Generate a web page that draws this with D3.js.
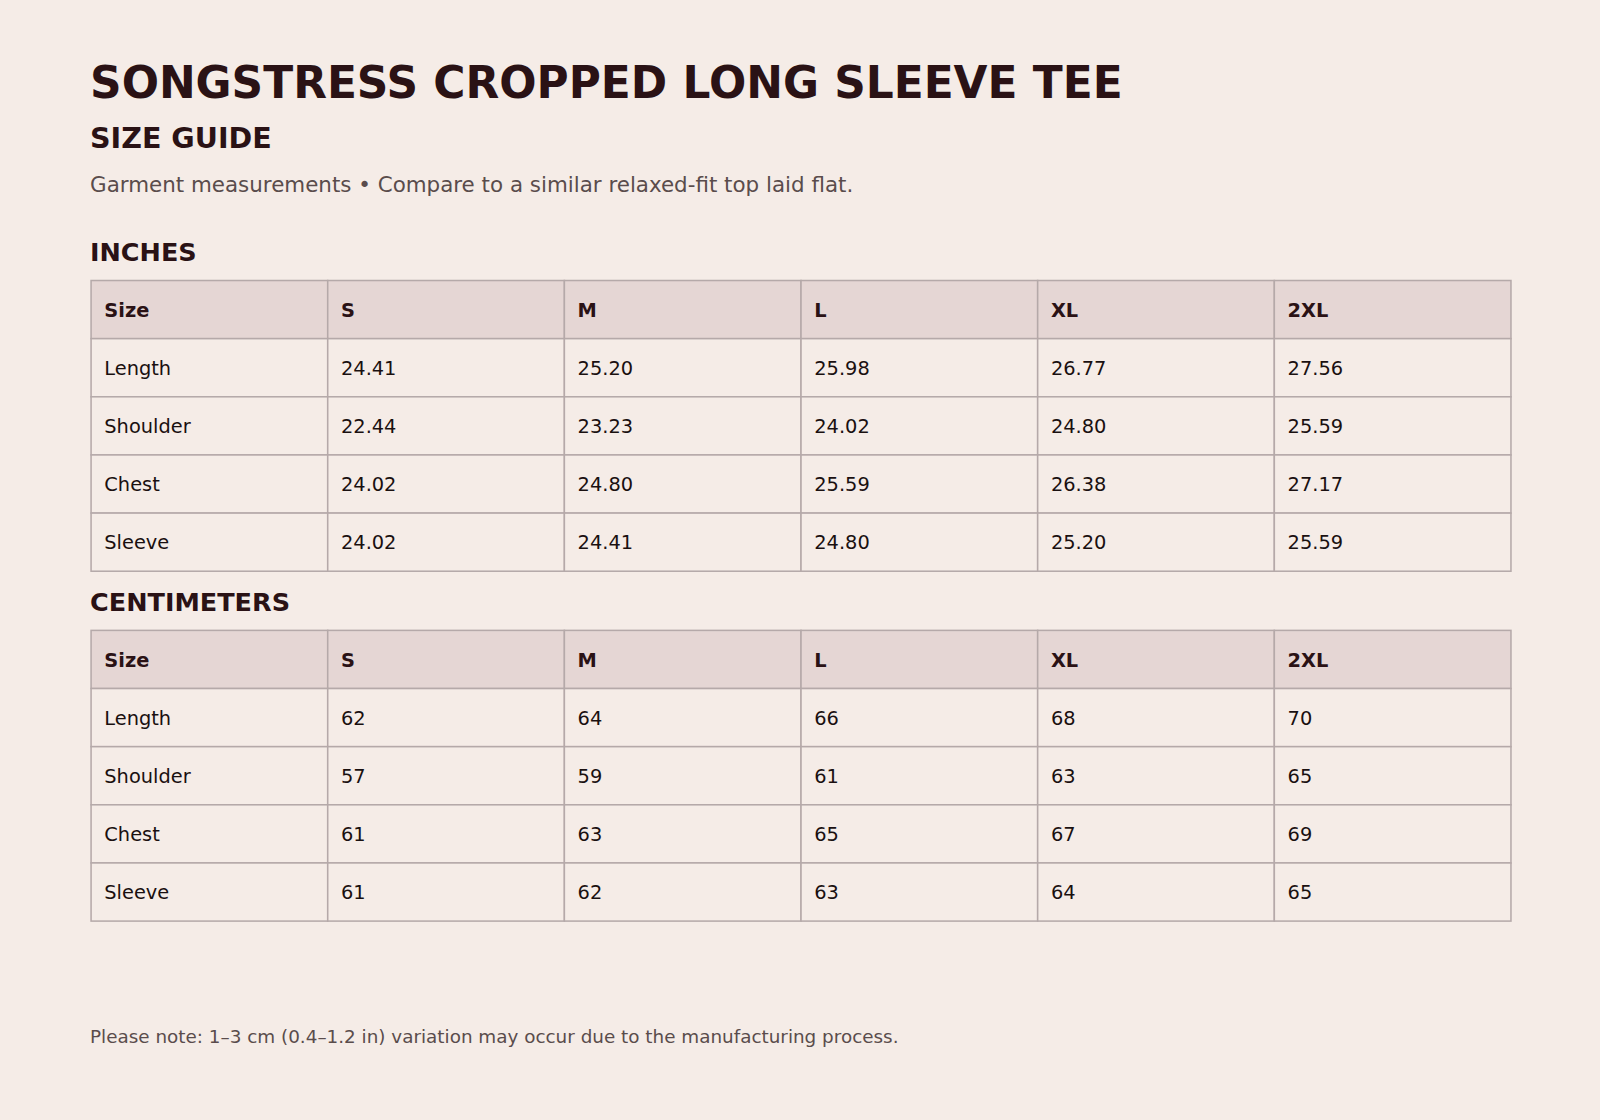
<!DOCTYPE html>
<html><head><meta charset="utf-8">
<script src="https://cdn.jsdelivr.net/npm/d3@7"></script>
<style>html,body{margin:0;padding:0;background:#f5ece7;}svg{display:block;}</style>
</head><body>
<script>
// Size guide data
const sizes = ["S", "M", "L", "XL", "2XL"];
const measures = ["Length", "Shoulder", "Chest", "Sleeve"];
const inches = [
  ["24.41", "25.20", "25.98", "26.77", "27.56"],
  ["22.44", "23.23", "24.02", "24.80", "25.59"],
  ["24.02", "24.80", "25.59", "26.38", "27.17"],
  ["24.02", "24.41", "24.80", "25.20", "25.59"]
];
const centimeters = [
  ["62", "64", "66", "68", "70"],
  ["57", "59", "61", "63", "65"],
  ["61", "63", "65", "67", "69"],
  ["61", "62", "63", "64", "65"]
];

const svg = d3.select("body").append("svg")
  .attr("width", 1600).attr("height", 1120)
  .attr("viewBox", "0 0 1568 1098")
  .style("font-family", "DejaVu Sans, sans-serif");

svg.append("rect").attr("width", 1568).attr("height", 1098).attr("fill", "#f5ece7");

svg.append("text").attr("x", 88).attr("y", 96).attr("font-size", 43).attr("font-weight", "bold")
  .attr("fill", "#2a1215").text("SONGSTRESS CROPPED LONG SLEEVE TEE");
svg.append("text").attr("x", 88).attr("y", 145).attr("font-size", 28).attr("font-weight", "bold")
  .attr("fill", "#2a1215").text("SIZE GUIDE");
svg.append("text").attr("x", 88).attr("y", 188).attr("font-size", 21)
  .attr("fill", "#5a4c4c").text("Garment measurements • Compare to a similar relaxed-fit top laid flat.");

function drawTable(label, labelY, top, values) {
  svg.append("text").attr("x", 88).attr("y", labelY).attr("font-size", 25).attr("font-weight", "bold")
    .attr("fill", "#2a1215").text(label);
  const cols = ["Size"].concat(sizes);
  const x = d3.scaleBand().domain(d3.range(6)).range([89, 1481]);
  const y = d3.scaleBand().domain(d3.range(5)).range([top, top + 285]);
  const rows = [cols].concat(measures.map((m, i) => [m].concat(values[i])));
  const g = svg.append("g");
  rows.forEach((row, r) => {
    row.forEach((v, c) => {
      g.append("rect").attr("x", x(c)).attr("y", y(r))
        .attr("width", x.bandwidth()).attr("height", y.bandwidth())
        .attr("fill", r === 0 ? "#e5d6d4" : "#f5ece7")
        .attr("stroke", "#b5a9a9").attr("stroke-width", 1.5);
      g.append("text").attr("x", x(c) + 13).attr("y", y(r) + y.bandwidth() / 2 + 7)
        .attr("font-size", 19).attr("font-weight", r === 0 ? "bold" : "normal")
        .attr("fill", r === 0 ? "#2a1215" : "#1a1010").text(v);
    });
  });
}

drawTable("INCHES", 256, 275, inches);
drawTable("CENTIMETERS", 599, 618, centimeters);

svg.append("text").attr("x", 88).attr("y", 1023).attr("font-size", 18)
  .attr("fill", "#5a4c4c").text("Please note: 1–3 cm (0.4–1.2 in) variation may occur due to the manufacturing process.");
</script>
</body></html>
